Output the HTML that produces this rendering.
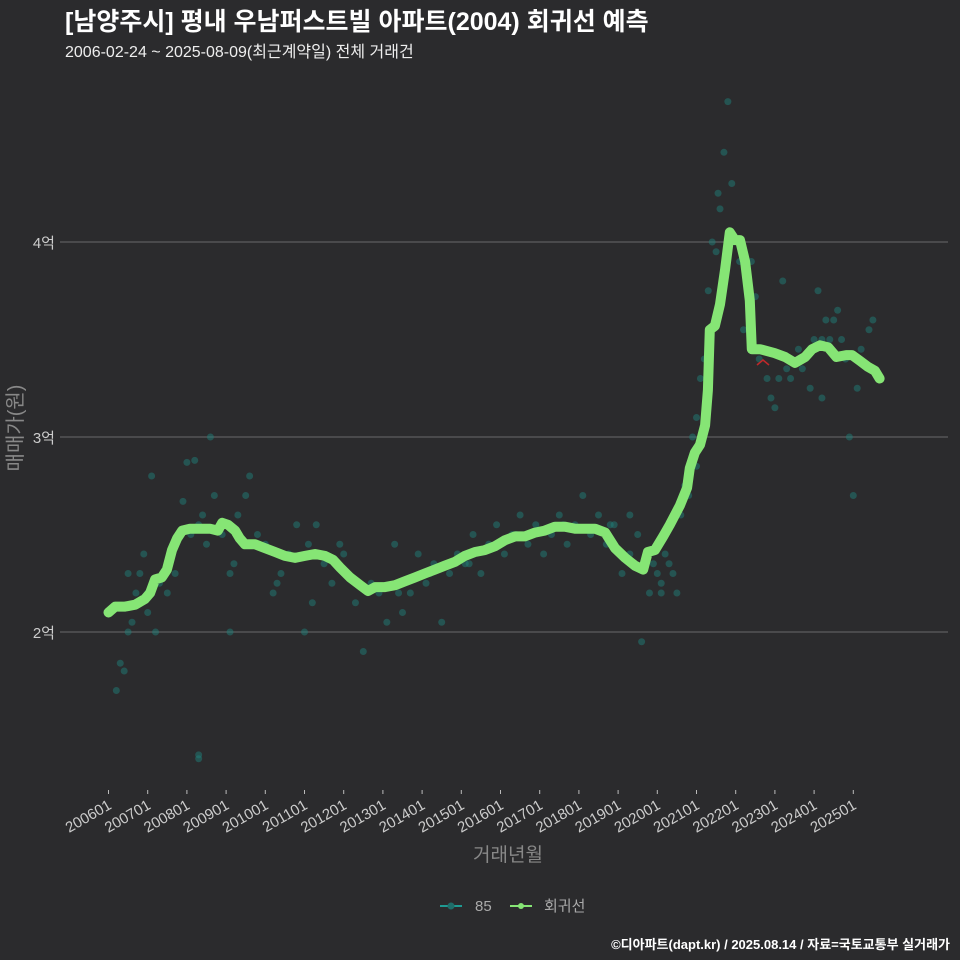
<!DOCTYPE html>
<html><head><meta charset="utf-8">
<style>
body{margin:0;background:#2b2b2d;}
#wrap{position:relative;width:960px;height:960px;background:#2b2b2d;overflow:hidden;font-family:"Liberation Sans","Noto Sans CJK KR",sans-serif;}
.t{position:absolute;white-space:nowrap;}
</style></head>
<body>
<div id="wrap">
<div class="t" style="left:65px;top:2px;font-size:25px;font-weight:bold;color:#fff;">[남양주시] 평내 우남퍼스트빌 아파트(2004) 회귀선 예측</div>
<div class="t" style="left:65px;top:38px;font-size:16px;color:#eee;">2006-02-24 ~ 2025-08-09(최근계약일) 전체 거래건</div>
<svg id="svg" width="960" height="960" style="position:absolute;left:0;top:0"></svg>
<div class="t" style="right:10px;top:934px;font-size:13px;font-weight:bold;color:#fff;">©디아파트(dapt.kr) / 2025.08.14 / 자료=국토교통부 실거래가</div>
</div>
<script>
const yTicks=[2,3,4];
const yTickLabels=["2억","3억","4억"];
const xTickYears=[2006,2007,2008,2009,2010,2011,2012,2013,2014,2015,2016,2017,2018,2019,2020,2021,2022,2023,2024,2025];
const xTickLabels=["200601","200701","200801","200901","201001","201101","201201","201301","201401","201501","201601","201701","201801","201901","202001","202101","202201","202301","202401","202501"];
const lineYears=[2006.0,2006.17,2006.42,2006.68,2006.93,2007.06,2007.19,2007.36,2007.49,2007.62,2007.75,2007.88,2008.08,2008.33,2008.59,2008.79,2008.9,2009.05,2009.23,2009.35,2009.48,2009.74,2009.99,2010.25,2010.5,2010.76,2011.01,2011.27,2011.52,2011.73,2011.91,2012.16,2012.42,2012.62,2012.8,2013.05,2013.31,2013.56,2013.82,2014.07,2014.33,2014.58,2014.84,2015.09,2015.35,2015.6,2015.86,2016.11,2016.37,2016.62,2016.88,2017.13,2017.39,2017.64,2017.9,2018.16,2018.41,2018.67,2018.92,2019.18,2019.43,2019.64,2019.76,2019.94,2020.15,2020.32,2020.58,2020.76,2020.83,2020.96,2021.09,2021.22,2021.29,2021.34,2021.47,2021.6,2021.73,2021.85,2021.98,2022.11,2022.24,2022.36,2022.41,2022.62,2022.99,2023.26,2023.51,2023.77,2023.95,2024.15,2024.36,2024.57,2024.82,2024.97,2025.17,2025.37,2025.55,2025.67];
const lineValues=[2.1,2.13,2.13,2.14,2.17,2.2,2.27,2.28,2.32,2.42,2.48,2.52,2.53,2.53,2.53,2.52,2.56,2.55,2.52,2.48,2.45,2.45,2.43,2.41,2.39,2.38,2.39,2.4,2.39,2.37,2.33,2.28,2.24,2.21,2.23,2.23,2.24,2.26,2.28,2.3,2.32,2.34,2.36,2.39,2.41,2.42,2.44,2.47,2.49,2.49,2.51,2.52,2.54,2.54,2.53,2.53,2.53,2.51,2.43,2.38,2.34,2.32,2.41,2.42,2.49,2.55,2.65,2.74,2.84,2.92,2.96,3.06,3.24,3.55,3.57,3.68,3.86,4.05,4.01,4.01,3.9,3.7,3.45,3.45,3.43,3.41,3.38,3.41,3.45,3.47,3.46,3.41,3.42,3.42,3.39,3.36,3.34,3.3];
const dotYears=[2006.2,2006.3,2006.4,2006.5,2006.6,2006.7,2006.8,2006.9,2007.0,2007.1,2007.2,2007.3,2007.5,2007.7,2007.9,2008.0,2008.1,2008.2,2008.3,2008.3,2008.4,2008.5,2008.6,2008.7,2008.9,2009.1,2009.2,2009.3,2009.5,2009.6,2009.8,2010.0,2010.2,2010.4,2010.6,2010.8,2011.0,2011.1,2011.3,2011.5,2011.7,2011.9,2012.1,2012.3,2012.5,2012.7,2012.9,2013.1,2013.3,2013.5,2013.7,2013.9,2014.1,2014.3,2014.5,2014.7,2014.9,2015.1,2015.3,2015.5,2015.7,2015.9,2016.1,2016.3,2016.5,2016.7,2016.9,2017.1,2017.3,2017.5,2017.7,2017.9,2018.1,2018.3,2018.5,2018.7,2018.9,2019.1,2019.3,2019.5,2019.6,2019.8,2019.9,2020.0,2020.1,2020.2,2020.3,2020.4,2020.5,2020.6,2020.7,2020.8,2020.9,2021.0,2021.1,2021.2,2021.3,2021.4,2021.5,2021.55,2021.6,2021.7,2021.8,2021.9,2022.1,2022.2,2022.4,2022.5,2022.6,2022.8,2022.9,2023.0,2023.1,2023.2,2023.4,2023.6,2023.7,2023.9,2024.0,2024.1,2024.2,2024.3,2024.4,2024.5,2024.6,2024.7,2024.8,2024.9,2025.0,2025.1,2025.2,2025.4,2025.5,2006.5,2007.0,2008.3,2009.1,2010.3,2011.2,2012.0,2013.4,2014.2,2015.2,2016.4,2017.6,2018.8,2019.3,2020.1,2021.0,2023.3,2024.2];
const dotValues=[1.7,1.84,1.8,2.0,2.05,2.2,2.3,2.4,2.1,2.8,2.0,2.25,2.2,2.3,2.67,2.87,2.5,2.88,1.35,1.37,2.6,2.45,3.0,2.7,2.5,2.0,2.35,2.6,2.7,2.8,2.5,2.45,2.2,2.3,2.4,2.55,2.0,2.45,2.55,2.35,2.25,2.45,2.3,2.15,1.9,2.25,2.2,2.05,2.45,2.1,2.2,2.4,2.25,2.35,2.05,2.3,2.4,2.35,2.5,2.3,2.45,2.55,2.4,2.5,2.6,2.45,2.55,2.4,2.5,2.6,2.45,2.55,2.7,2.5,2.6,2.45,2.55,2.3,2.6,2.5,1.95,2.2,2.35,2.3,2.2,2.4,2.35,2.3,2.2,2.6,2.75,2.7,3.0,3.1,3.3,3.4,3.75,4.0,3.95,4.25,4.17,4.46,4.72,4.3,3.9,3.55,3.9,3.72,3.4,3.3,3.2,3.15,3.3,3.8,3.3,3.45,3.35,3.25,3.5,3.75,3.2,3.6,3.5,3.6,3.65,3.5,3.4,3.0,2.7,3.25,3.45,3.55,3.6,2.3,2.2,2.55,2.3,2.25,2.15,2.4,2.2,2.3,2.35,2.5,2.55,2.55,2.4,2.25,2.85,3.35,3.5];

const svg=document.getElementById('svg');
const NS='http://www.w3.org/2000/svg';
const X0=60,X1=948;
function sx(y){return 108.5+(y-2006)*39.2;}
function sy(v){return 632-(v-2)*195;}
function mk(tag,attrs){const e=document.createElementNS(NS,tag);for(const k in attrs)e.setAttribute(k,attrs[k]);svg.appendChild(e);return e;}

yTicks.forEach((v,i)=>{
  const g=mk('line',{x1:X0,x2:X1,y1:sy(v),y2:sy(v),stroke:'#6a6a6a','stroke-width':1});
  
  
  const t=mk('text',{x:55,y:sy(v)+6,'text-anchor':'end',fill:'#ccc','font-size':15,'font-family':'Liberation Sans, Noto Sans CJK KR, sans-serif'});
  t.textContent=yTickLabels[i];
  
  
});
xTickYears.forEach((y,i)=>{
  const x=sx(y);
  const tk=mk('line',{x1:x,x2:x,y1:790,y2:794,stroke:'#bbb','stroke-width':1});
  
  
  const t=mk('text',{x:x+4,y:808,'text-anchor':'end',fill:'#ccc','font-size':15,transform:`rotate(-30 ${x+4} 808)`,'font-family':'Liberation Sans, sans-serif'});
  t.textContent=xTickLabels[i];
  
  
});
dotYears.forEach((y,i)=>{
  const c=mk('circle',{cx:sx(y),cy:sy(dotValues[i]),r:3.5,fill:'#1f7e78','fill-opacity':0.5});
  
  
});
const pts=lineYears.map((y,i)=>sx(y).toFixed(1)+','+sy(lineValues[i]).toFixed(1)).join(' ');
const pl=mk('polyline',{points:pts,fill:'none',stroke:'#86e575','stroke-width':10,'stroke-linejoin':'round','stroke-linecap':'round'});


const mr=mk('polyline',{points:'757,365 763,360 769,365',fill:'none',stroke:'#c0282a','stroke-width':1.5});



const yt=mk('text',{x:22,y:428,'text-anchor':'middle',fill:'#888','font-size':20,transform:'rotate(-90 22 428)','font-family':'Liberation Sans, Noto Sans CJK KR, sans-serif'});
yt.textContent='매매가(원)';


const xt=mk('text',{x:508,y:861,'text-anchor':'middle',fill:'#888','font-size':19,'font-family':'Liberation Sans, Noto Sans CJK KR, sans-serif'});
xt.textContent='거래년월';



const l1=mk('line',{x1:440,x2:462,y1:906,y2:906,stroke:'#1f9a92','stroke-width':2});


const c1=mk('circle',{cx:451,cy:906,r:3.5,fill:'#1f6e6a'});


const t1=mk('text',{x:475,y:911,fill:'#aaa','font-size':15,'font-family':'Liberation Sans, sans-serif'});
t1.textContent='85';


const l2=mk('line',{x1:510,x2:532,y1:906,y2:906,stroke:'#86e575','stroke-width':2});


const c2=mk('circle',{cx:521,cy:906,r:3,fill:'#86e575'});


const t2=mk('text',{x:544,y:911,fill:'#aaa','font-size':15,'font-family':'Liberation Sans, Noto Sans CJK KR, sans-serif'});
t2.textContent='회귀선';


</script>
</body></html>
